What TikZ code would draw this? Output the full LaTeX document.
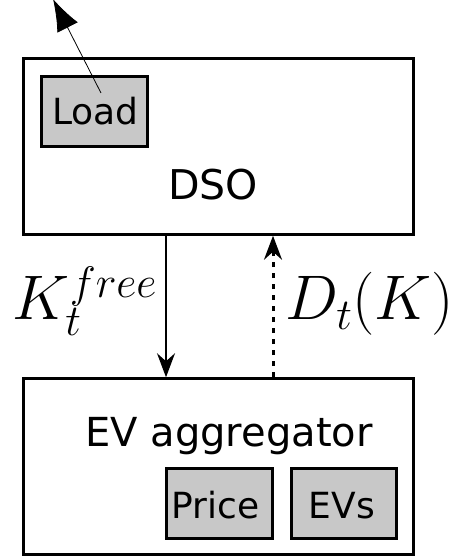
\RequirePackage{fix-cm}
\documentclass[tikz,border=0pt]{standalone}
\usepackage{fontspec}
\newfontfamily\dejavu{DejaVu Sans}
\usetikzlibrary{arrows.meta}
\definecolor{boxgray}{RGB}{200,200,200}
\newcommand\dvsize[1]{\dejavu\fontsize{#1}{#1}\selectfont}

\begin{document}
\begin{tikzpicture}[x=1pt,y=1pt,
  block/.style={draw, line width=2.5pt, minimum width=390pt, minimum height=176pt, inner sep=0pt},
  part/.style={draw, fill=boxgray, line width=2.5pt, minimum height=70pt, inner sep=0pt},
  lbl/.style={anchor=base, inner sep=0pt},
  flow/.style={line width=1.8pt, -{Stealth[length=24pt,width=18pt,inset=8pt]}}]
\useasboundingbox (0,0) rectangle (454,556);
% the two blocks
\node [block] (dso) at (218.5,409.5) {};
\node [block] (ev) at (218.5,89.5) {};
\node [part, minimum width=106pt] (load) at (94.5,444.5) {};
\node [part, minimum width=106pt] (price) at (219.5,52.5) {};
\node [part, minimum width=105pt] (evs) at (344,52.5) {};
% texts
\node [lbl, font=\dvsize{41}] (dsotxt) at (213,356) {DSO};
\node [lbl, font=\dvsize{36}] (loadtxt) at (95.5,431) {Load};
\node [lbl, font=\dvsize{40}] (evtxt) at (229,109) {EV aggregator};
\node [lbl, font=\dvsize{36}] (pricetxt) at (215.5,37) {Price};
\node [lbl, font=\dvsize{36}] (evstxt) at (342,37) {EVs};
% load goes out of the picture
\coordinate (loadsrc) at (101,463);
\coordinate (loadout) at (53,557);
\draw [line width=0.8pt, -{Latex[length=32pt,width=23pt]}] (loadsrc) -- (loadout);
% exchange between DSO and aggregator
\draw [flow] ([xshift=-52.5pt]dso.south) -- ([xshift=-52.5pt]ev.north);
\draw [flow, line width=3pt, dash pattern=on 5pt off 6pt] ([xshift=54.5pt]ev.north) -- ([xshift=54.5pt]dso.south);
\node [lbl, font=\fontsize{63}{63}\selectfont] (kfree) at (85,236) {$K_t^{free}$};
\node [lbl, font=\fontsize{63}{63}\selectfont] (dk) at (369.5,236) {$D_t(K)$};
\end{tikzpicture}
\end{document}
